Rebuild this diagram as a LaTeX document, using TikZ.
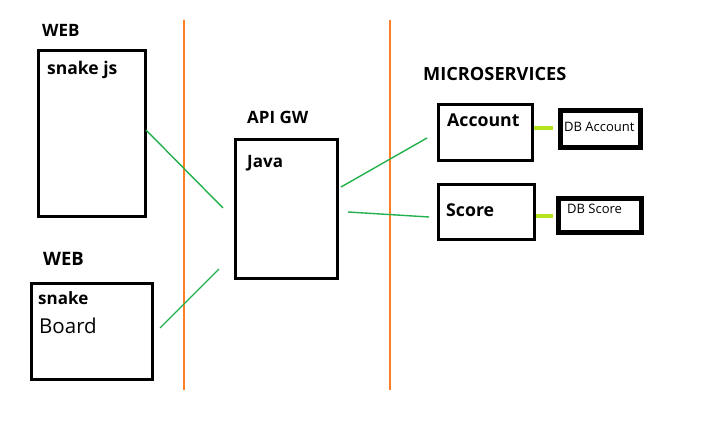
\documentclass[tikz,border=0pt]{standalone}
\usepackage{fontspec}
\setmainfont{Open Sans}
\definecolor{sepcol}{RGB}{255,127,39}
\definecolor{conncol}{RGB}{34,177,76}
\definecolor{limecol}{RGB}{181,230,29}
\begin{document}
\begin{tikzpicture}[x=1pt,y=-1pt,
  box/.style={draw=black,line width=3pt,anchor=north west,inner sep=0,fill=none},
  dbbox/.style={draw=black,line width=5pt,anchor=north west,inner sep=0},
  lbl/.style={anchor=base west,inner sep=0,font=\bfseries\fontsize{17}{19}\selectfont},
  sepline/.style={color=sepcol,line width=2pt},
  conn/.style={draw=conncol,line width=1.4pt},
  dblink/.style={draw=limecol,line width=4.5pt}]
\useasboundingbox (0,0) rectangle (726,422);
% separators
\coordinate (s1t) at (183.5,20); \coordinate (s1b) at (183.5,390);
\coordinate (s2t) at (389.5,20); \coordinate (s2b) at (389.5,390);
\draw[sepline] (s1t) -- (s1b);
\draw[sepline] (s2t) -- (s2b);
% boxes
\node[box,minimum width=107pt,minimum height=166pt] (web1) at (37,49) {};
\node[box,minimum width=121pt,minimum height=96pt] (web2) at (30,282) {};
\node[box,minimum width=102pt,minimum height=139pt] (api) at (234,138) {};
\node[box,minimum width=94pt,minimum height=56pt] (acc) at (437,103) {};
\node[box,minimum width=96pt,minimum height=55pt] (score) at (437,183) {};
\node[dbbox,minimum width=80pt,minimum height=37pt] (dbacc) at (558,108) {};
\node[dbbox,minimum width=83pt,minimum height=34pt] (dbscore) at (556,196) {};
% labels
\node[lbl] (tweb1) at (42,37) {WEB};
\node[lbl,font=\bfseries\fontsize{17.5}{19}\selectfont] (tsnakejs) at (47,75) {snake js};
\node[lbl,font=\bfseries\fontsize{18.5}{20}\selectfont] (tweb2) at (43,266) {WEB};
\node[lbl] (tsnake) at (38,305) {snake};
\node[anchor=base west,inner sep=0,font=\fontsize{20.5}{22}\selectfont] (tboard) at (39,333) {Board};
\node[lbl] (tapi) at (247,124) {API GW};
\node[lbl] (tjava) at (247,168) {Java};
\node[lbl,font=\bfseries\fontsize{18.2}{20}\selectfont] (tmicro) at (423,81) {MICROSERVICES};
\node[lbl,font=\bfseries\fontsize{17.7}{19}\selectfont] (tacc) at (447,127) {Account};
\node[lbl,font=\bfseries\fontsize{17.7}{19}\selectfont] (tscore) at (446,217) {Score};
\node[anchor=base west,inner sep=0,font=\fontsize{13}{15}\selectfont] (tdbacc) at (564,132) {DB Account};
\node[anchor=base west,inner sep=0,font=\fontsize{13}{15}\selectfont] (tdbscore) at (567,214) {DB Score};
% connectors
\coordinate (c1a) at (146,130); \coordinate (c1b) at (223,208);
\coordinate (c2a) at (160,328); \coordinate (c2b) at (219,269);
\coordinate (c3a) at (341,187); \coordinate (c3b) at (427,138);
\coordinate (c4a) at (348,212); \coordinate (c4b) at (429,217);
\draw[conn] (c1a) -- (c1b);
\draw[conn] (c2a) -- (c2b);
\draw[conn] (c3a) -- (c3b);
\draw[conn] (c4a) -- (c4b);
\coordinate (d1a) at (534,128); \coordinate (d1b) at (553,128);
\coordinate (d2a) at (536,216); \coordinate (d2b) at (553,216);
\draw[dblink] (d1a) -- (d1b);
\draw[dblink] (d2a) -- (d2b);
\end{tikzpicture}
\end{document}
